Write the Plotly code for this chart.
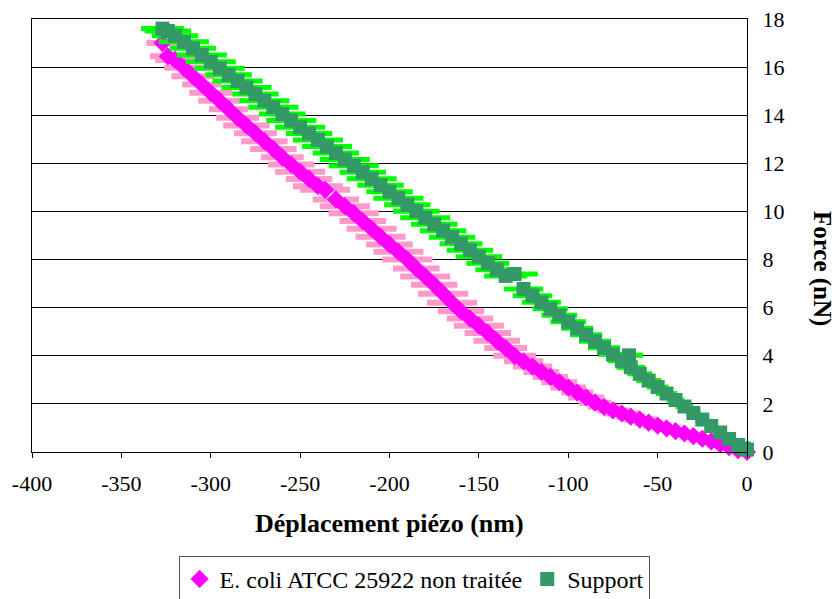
import plotly.graph_objects as go

# Pink series: E. coli ATCC 25922 non traitée
pink_x = [-327, -324, -320, -315, -310, -305, -300, -295, -290, -285, -280, -275, -270, -265,
          -260, -255, -250, -245, -240, -236, -230, -225, -220, -215, -210, -205, -200, -195,
          -190, -185, -180, -175, -170, -165, -160, -155, -150, -145, -140, -135, -130, -125,
          -120, -115, -110, -105, -100, -95, -90, -85, -80, -75, -70, -65, -60, -55, -50, -45,
          -40, -35, -30, -25, -20, -15, -10, -5, 0]
pink_y = [17.0, 16.45, 16.3, 15.97, 15.62, 15.28, 14.93, 14.6, 14.25, 13.9, 13.57, 13.25, 12.92, 12.6,
          12.25, 11.95, 11.65, 11.35, 11.05, 10.9, 10.5, 10.22, 9.93, 9.6, 9.28, 8.95, 8.63, 8.32,
          8.0, 7.63, 7.3, 6.95, 6.58, 6.2, 5.85, 5.55, 5.25, 4.95, 4.62, 4.32, 4.0, 3.77,
          3.55, 3.33, 3.12, 2.9, 2.68, 2.47, 2.27, 2.05, 1.88, 1.73, 1.6, 1.47, 1.35, 1.22, 1.1, 0.98,
          0.87, 0.77, 0.66, 0.55, 0.44, 0.32, 0.2, 0.08, 0.0]
pink_err = [9, 10, 11, 11, 12, 11, 12, 12, 11, 12, 13, 12, 13, 13,
            12, 13, 14, 13, 14, 14, 13, 14, 14, 13, 14, 14, 13, 14,
            14, 13, 14, 13, 14, 14, 13, 13, 14, 13, 13, 12, 12, 11,
            11, 10, 10, 10, 10, 9, 10, 9, 9, 9, 10, 8, 9, 8, 8, 7,
            7, 6, 6, 5, 5, 4, 4, 3, 2]

# Green series: Support
green_x = [-327, -324, -320, -315, -310, -305, -300, -295, -290, -285, -280, -275, -270, -265,
           -260, -255, -250, -245, -240, -235, -230, -225, -220, -215, -210, -205, -200, -195,
           -190, -185, -180, -175, -170, -165, -160, -155, -150, -145, -140, -135, -130, -125,
           -120, -115, -110, -105, -100, -95, -90, -85, -80, -75, -70, -66, -65, -60, -55, -50,
           -45, -40, -35, -30, -25, -20, -15, -10, -5, -2, 0]
green_y = [17.6, 17.5, 17.3, 17.05, 16.78, 16.5, 16.22, 15.95, 15.68, 15.42, 15.15, 14.88, 14.6, 14.33,
           14.05, 13.78, 13.5, 13.24, 12.97, 12.7, 12.43, 12.16, 11.9, 11.63, 11.36, 11.09, 10.82, 10.55,
           10.28, 10.01, 9.74, 9.47, 9.2, 8.93, 8.66, 8.39, 8.12, 7.85, 7.58, 7.32, 7.4, 6.78,
           6.5, 6.22, 5.95, 5.68, 5.41, 5.14, 4.87, 4.6, 4.33, 4.06, 3.79, 4.02, 3.52, 3.25, 2.97, 2.7,
           2.43, 2.16, 1.89, 1.62, 1.35, 1.08, 0.81, 0.54, 0.29, 0.15, 0.1]
green_err = [12, 13, 13, 14, 13, 14, 14, 14, 13, 14, 14, 13, 14, 14,
             13, 14, 14, 13, 14, 14, 13, 14, 14, 13, 14, 13, 13, 14,
             13, 13, 14, 13, 13, 13, 12, 13, 13, 12, 12, 12, 13, 11,
             11, 11, 10, 10, 10, 9, 9, 9, 9, 8, 8, 8, 8, 7, 7, 6,
             6, 5, 5, 4, 4, 3, 3, 3, 2, 2, 2]

x_ticks = [-400, -350, -300, -250, -200, -150, -100, -50, 0]
x_labels = ["-400", "-350", "-300", "-250", "-200", "-150", "-100", "-50", "0"]
y_ticks = [0, 2, 4, 6, 8, 10, 12, 14, 16, 18]
y_labels = ["0", "2", "4", "6", "8", "10", "12", "14", "16", "18"]

serif = "Liberation Serif, Times New Roman, serif"
tick_font = dict(family=serif, size=22, color="black")

fig = go.Figure()
fig.add_trace(go.Scatter(
    x=pink_x, y=pink_y, mode="markers", name="E. coli ATCC 25922 non traitée",
    marker=dict(symbol="diamond", size=14, color="#FF00FF", line=dict(width=0)),
    error_x=dict(type="data", array=pink_err, color="#FF99CC", thickness=6, width=0),
    cliponaxis=False,
))
fig.add_trace(go.Scatter(
    x=green_x, y=green_y, mode="markers", name="Support",
    marker=dict(symbol="square", size=14, color="#339966", line=dict(width=0)),
    error_x=dict(type="data", array=green_err, color="#00FF00", thickness=5, width=0),
    cliponaxis=False,
))

fig.update_layout(
    width=840, height=599,
    margin=dict(l=32, r=93, t=19, b=147),
    paper_bgcolor="white", plot_bgcolor="white",
    font=dict(family=serif, size=22, color="black"),
    showlegend=True,
    legend=dict(
        orientation="h", xref="container", yref="container",
        x=0.493, y=0.072, xanchor="center", yanchor="top",
        bordercolor="#555555", borderwidth=1, bgcolor="white",
        font=dict(family=serif, size=24, color="black"),
    ),
    xaxis=dict(
        range=[-400, 0], tickvals=x_ticks, ticktext=x_labels, tickfont=tick_font,
        ticks="outside", ticklen=5, tickcolor="black",
        showline=True, linecolor="black", linewidth=1, mirror=True,
        showgrid=False, zeroline=False, ticklabelstandoff=7, automargin=False,
    ),
    yaxis=dict(
        range=[0, 18], tickvals=y_ticks, ticktext=y_labels, tickfont=tick_font,
        side="right", ticks="",
        showline=True, linecolor="black", linewidth=1, mirror=True,
        showgrid=True, gridcolor="black", gridwidth=1, zeroline=False,
        ticklabelstandoff=10, automargin=False,
    ),
    annotations=[
        dict(text="<b>Déplacement piézo (nm)</b>", xref="paper", yref="paper",
             x=0.5, y=-0.164, xanchor="center", yanchor="middle", showarrow=False,
             font=dict(family=serif, size=26, color="black")),
        dict(text="<b>Force (nN)</b>", xref="paper", yref="paper",
             x=1.105, y=0.425, xanchor="center", yanchor="middle", showarrow=False,
             textangle=90, font=dict(family=serif, size=25, color="black")),
    ],
)

# la page HTML a une marge de 8 px par défaut, on l'enlève
fig.write_html("out.html", config={"displayModeBar": False},
               post_script="document.body.style.margin = '0';")
